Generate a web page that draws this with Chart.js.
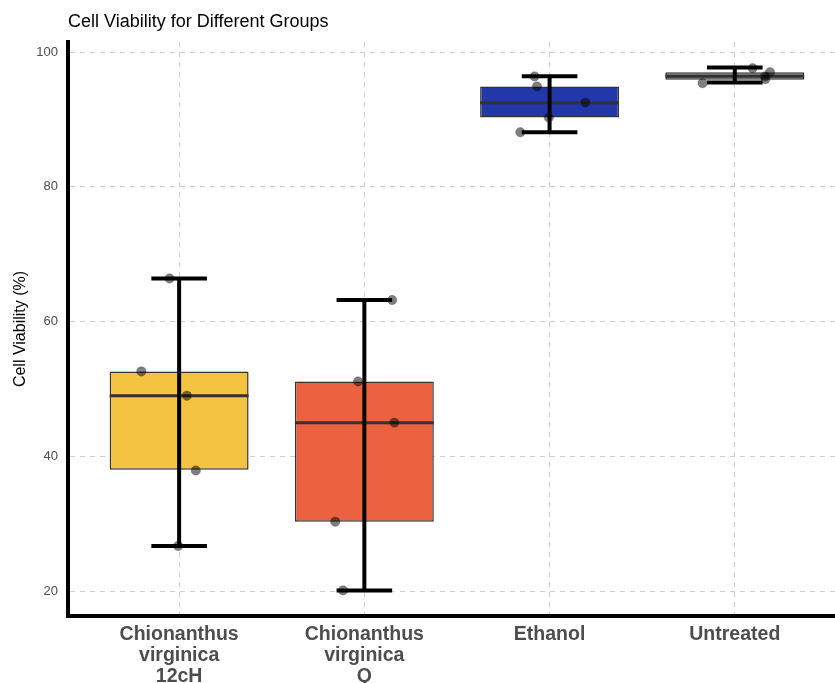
<!DOCTYPE html>
<html>
<head>
<meta charset="utf-8">
<script src="https://cdn.jsdelivr.net/npm/chart.js@4"></script>
<style>
  html, body { margin: 0; padding: 0; background: #fff; overflow: hidden; }
  #wrap { width: 835px; height: 683px; position: relative; }
</style>
</head>
<body>
<div id="wrap"><canvas id="c"></canvas></div>
<script>
// ---- data ----
const chartTitle = 'Cell Viability for Different Groups';
const yTitle = 'Cell Viability (%)';
const categories = [['Chionanthus', 'virginica', '12cH'], ['Chionanthus', 'virginica', 'Q'], 'Ethanol', 'Untreated'];
const boxColors = ['#F5C342', '#EC6240', '#2238A8', '#808080'];
const q1 = [38.0, 30.3, 90.3, 95.9];
const medians = [49.0, 45.0, 92.5, 96.4];
const q3 = [52.6, 51.1, 94.9, 97.0];
const errLow = [26.7, 20.1, 88.1, 95.5];
const errHigh = [66.4, 63.2, 96.4, 97.7];
const yTicks = [20, 40, 60, 80, 100];

// individual observations (group number, horizontal jitter, value)
const pointGroup  = [1, 1, 1, 1, 1, 2, 2, 2, 2, 2, 3, 3, 3, 3, 3, 4, 4, 4, 4, 4];
const pointJitter = [-0.052, -0.204, 0.042, 0.090, -0.005,
                     0.150, -0.034, 0.162, -0.157, -0.115,
                     -0.081, -0.068, 0.193, -0.004, -0.158,
                     0.096, 0.190, 0.164, 0.165, -0.174];
const pointValue  = [66.4, 52.6, 49.0, 37.9, 26.7,
                     63.2, 51.1, 45.0, 30.3, 20.1,
                     96.4, 94.9, 92.5, 90.3, 88.1,
                     97.6, 97.0, 96.4, 96.0, 95.4];

const FONT = "'Liberation Sans', Arial, Helvetica, sans-serif";

const boxData = categories.map((c, i) => ({ x: i + 1, y: [q1[i], q3[i]] }));
const pointData = pointValue.map((v, i) => ({ x: pointGroup[i] + pointJitter[i], y: v }));

const overlayPlugin = {
  id: 'overlay',
  afterDatasetDraw(chart, args) {
    if (args.meta.type !== 'bar') return;
    const ctx = chart.ctx;
    const xs = chart.scales.x, ys = chart.scales.y;
    ctx.save();
    // medians
    args.meta.data.forEach((bar, i) => {
      const half = bar.width / 2;
      const y = ys.getPixelForValue(medians[i]);
      ctx.strokeStyle = '#333333';
      ctx.lineWidth = 3;
      ctx.beginPath();
      ctx.moveTo(bar.x - half, y);
      ctx.lineTo(bar.x + half, y);
      ctx.stroke();
    });
    // error bars
    categories.forEach((c, i) => {
      const x = xs.getPixelForValue(i + 1);
      const xl = xs.getPixelForValue(i + 1 - 0.15);
      const xr = xs.getPixelForValue(i + 1 + 0.15);
      const yl = ys.getPixelForValue(errLow[i]);
      const yh = ys.getPixelForValue(errHigh[i]);
      ctx.strokeStyle = '#000';
      ctx.lineWidth = 4;
      ctx.beginPath();
      ctx.moveTo(x, yl); ctx.lineTo(x, yh);
      ctx.moveTo(xl, yl); ctx.lineTo(xr, yl);
      ctx.moveTo(xl, yh); ctx.lineTo(xr, yh);
      ctx.stroke();
    });
    ctx.restore();
  },
  afterDraw(chart) {
    const ctx = chart.ctx;
    ctx.save();
    ctx.font = '18px ' + FONT;
    ctx.fillStyle = '#000';
    ctx.textAlign = 'left';
    ctx.textBaseline = 'alphabetic';
    ctx.fillText(chartTitle, chart.chartArea.left, 27);
    ctx.restore();
  }
};

new Chart(document.getElementById('c'), {
  type: 'scatter',
  data: {
    datasets: [
      {
        type: 'bar',
        data: boxData,
        backgroundColor: boxColors,
        borderColor: '#333333',
        borderWidth: 1.5,
        borderSkipped: false,
        barPercentage: 0.75,
        categoryPercentage: 1,
        order: 2
      },
      {
        type: 'scatter',
        data: pointData,
        pointRadius: 4.7,
        pointHoverRadius: 4.7,
        backgroundColor: 'rgba(0,0,0,0.5)',
        borderColor: 'rgba(40,40,40,0.5)',
        borderWidth: 0.5,
        order: 1
      }
    ]
  },
  options: {
    responsive: true,
    maintainAspectRatio: false,
    animation: false,
    events: [],
    layout: { autoPadding: false, padding: { top: 42, left: 0, right: 0, bottom: 0 } },
    plugins: { legend: { display: false }, tooltip: { enabled: false }, title: { display: false } },
    scales: {
      x: {
        type: 'linear',
        min: 0.4,
        max: 4.541,
        offset: false,
        afterFit: s => { s.height = 67; },
        afterBuildTicks: s => { s.ticks = categories.map((c, i) => ({ value: i + 1 })); },
        grid: { display: true, offset: false, color: '#cfcfcf', lineWidth: 1, drawTicks: false },
        border: { display: true, color: '#000', width: 4, dash: [5, 5] },
        ticks: {
          autoSkip: false, maxRotation: 0, minRotation: 0, padding: 8,
          color: '#4d4d4d',
          font: { family: FONT, size: 19.5, weight: 'bold', lineHeight: 1.08 },
          callback: v => categories[Math.round(v) - 1]
        }
      },
      y: {
        type: 'linear',
        min: 16.3,
        max: 101.5,
        afterFit: s => { s.width = 68; },
        afterBuildTicks: s => { s.ticks = yTicks.map(v => ({ value: v })); },
        grid: { display: true, color: '#cfcfcf', lineWidth: 1, drawTicks: false },
        border: { display: true, color: '#000', width: 4, dash: [5, 5] },
        ticks: { padding: 10, color: '#4d4d4d', font: { family: FONT, size: 13 } },
        title: {
          display: true, text: yTitle, color: '#000',
          font: { family: FONT, size: 16 }, padding: { top: 11, bottom: 0 }
        }
      }
    }
  },
  plugins: [overlayPlugin]
});
</script>
</body>
</html>
